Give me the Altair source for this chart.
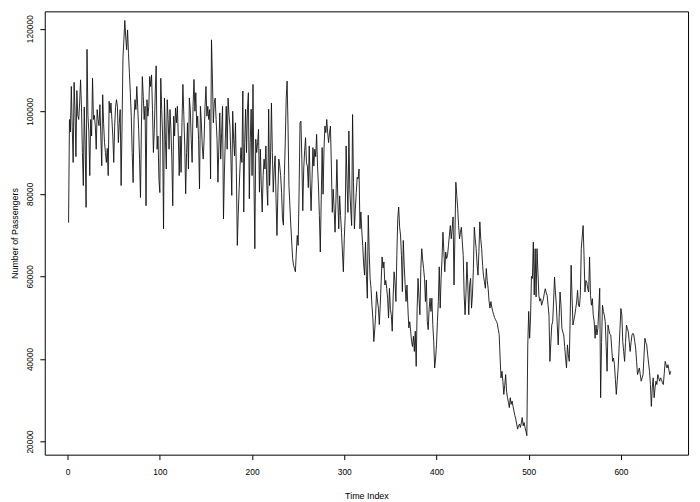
import altair as alt
import pandas as pd

# Passenger counts in thousands, in order of time index
seg1 = [73, 98, 95, 106, 96, 87.6, 107, 100, 89, 105, 99, 98, 102, 107.6, 101, 90, 82, 101, 92, 76.7,
        115, 99, 95, 84.4, 98, 94, 108, 98, 99, 96.4, 90.8, 100.4, 98, 96.5, 101.6, 94, 86.8, 104, 97, 92.4,
        90, 87.6, 91, 84.4, 102.4, 99.6, 102, 98, 94, 87.6, 96.4, 101, 102.8, 101.2, 92.4, 97]
seg2 = [100.4, 82, 96.4, 112.9, 117.3, 122, 118, 114.9, 119.7, 114, 109.2, 104.4, 98.8, 90, 82.7, 98, 102.8,
        100.4, 106, 101, 95.6, 88.4, 79.1, 96.4, 108.4, 103.6, 98, 101.2, 77.1, 102.8, 98.8, 101.2, 108.4, 106,
        108.8, 100.4, 90, 95.6, 104.4, 111, 90.8, 94, 83.5, 80.3, 108, 100.4, 94, 71.5, 103.2, 93.2, 86,
        102.8, 98, 90.8, 100.4, 95.6, 88.4, 77.1, 98.8, 94, 100.8, 97.2, 101.2, 94, 84.4]
seg3 = [94, 85.2, 97.2, 106.5, 99, 91.6, 80, 90, 97.2, 86, 103.2, 100.4, 93.2, 87.6, 101.2, 107.7, 100, 104.5,
        96, 98.8, 93.2, 81.2, 101.2, 97.2, 91.6, 88.4, 93.2, 101.2, 106, 98.8, 101.2, 98, 100.4, 83.6, 117.3,
        108, 97.2, 102, 103.2, 98, 93.2, 82.8, 91.6, 99.6, 88.4, 94.8, 101.2, 73.9, 85, 93.2, 101.2, 90.8,
        103.2, 99, 96.4, 89.2, 79.6, 100, 93.2, 89.2, 97.2, 85.2, 67.5, 75, 81.2, 86.8]
seg4 = [91.2, 87.6, 104.9, 75.6, 92.4, 100.5, 90, 100.5, 104.5, 78.8, 92.4, 100.5, 84.4, 106.5, 84.4, 66.7,
        93.2, 90, 92.4, 95.6, 80.4, 90.8, 82, 75.6, 84.4, 88.4, 86, 91.6, 82, 77.2, 100.5, 82, 88.4, 102, 90,
        80.4, 86, 89.2, 78.8, 69.9, 80.4, 88.4, 86.8, 84.4, 80.4, 74, 72.4, 84.4, 92.4, 102.9, 107.3, 96.4, 82,
        77.2, 72.4, 68.3, 64.3, 62.7, 61.9, 61.1, 65.9, 69.9, 67.5, 80.4, 97.2]
seg5 = [97.6, 88.3, 75.9, 86, 90.4, 93.6, 87.5, 86.7, 81.5, 91.6, 82.8, 75.9, 83.5, 91.2, 86.7, 90.8, 89,
        94.4, 86.7, 81.9, 74.7, 65.9, 78.7, 91.2, 79.9, 90.8, 96.4, 94.8, 98, 94.8, 92.4, 94.8, 96.4, 86.7,
        75.5, 81.1, 76.3, 70.7, 78.7, 88.3, 78.7, 71.5, 79.5, 74.7, 70.7, 65.9, 61.1, 69.1, 74.7, 91.6, 82.8,
        75.5, 95.2, 81.1, 76.3, 72.3, 99.2, 82.8, 71.5, 76.3, 80.3, 84]
seg6 = [83.6, 86, 71.5, 75.6, 71, 67.5, 63, 60.3, 68.3, 60, 54.7, 74.8, 66, 59.5, 57.1, 53, 49.9, 44.2, 47,
        50.7, 56.3, 54, 52.3, 48.3, 53, 58.7, 64.7, 62, 63.5, 57.9, 59, 57.1, 54.7, 49.9, 57.1, 52, 50.7, 46.7,
        55, 61.1, 58.7, 53.9, 65.1, 74, 76.8, 72, 70, 65.1, 56.3, 68.7, 62.7, 58, 53.9, 57.9, 52.3, 47.5, 49,
        46.7, 44.2, 43, 45.5, 41.8, 46.7, 38.2]
seg7 = [52, 59.5, 54.7, 50.7, 61.9, 66.7, 64, 61.9, 59.5, 53.9, 59.1, 49.1, 47.1, 52, 54.7, 51.5, 54.7, 48.3,
        44.2, 37.8, 40, 43.4, 49, 53.9, 62.3, 52.3, 59.5, 64.3, 70.7, 66, 61.1, 65.9, 64.3, 65.1, 67.5, 70,
        72.3, 69.1, 71.5, 74.4, 57.9, 70, 82.8, 79.6, 76.4, 72.3, 69.1, 70.7, 71.9, 68.3, 65.1, 55.5, 50.7,
        56, 63.5, 57.9, 50.7, 57.9, 59.5, 52.3, 55.5, 61.9, 71.9, 69.1]
seg8 = [66.7, 63, 60.3, 66, 73.2, 69, 66.7, 62.7, 60, 58.7, 57.1, 61.9, 59, 57.1, 54, 52.3, 53.9, 52.5, 51.5,
        50.7, 50, 49.5, 49.1, 48.5, 47.1, 45.9, 40.2, 35.4, 37, 34.6, 31.4, 33.5, 36.2, 32.2, 30.6, 29.5, 28.2,
        30.6, 29, 29.8, 28.5, 27.4, 26.3, 25.4, 24.2, 23, 23.8, 24.2, 23.4, 24.5, 25.8, 23.8, 24.6, 23.4,
        22.5, 21.4, 43.4, 51.5, 45, 49.9, 60, 59.5, 68.3, 55.5, 66.7]
seg9 = [55, 66.7, 61, 55.4, 54, 54.6, 53, 53.8, 54.6, 56, 57, 56, 55.4, 53, 50.6, 39.4, 44, 48.2, 49, 54,
        59.8, 56, 53, 48, 43.4, 50, 56.2, 53, 47.4, 46.5, 45.8, 43, 40.2, 37.8, 43.4, 41, 39.4, 50, 62.7, 55,
        48.2, 49.4, 50.6, 52.2, 53.8, 56.6, 53, 52.6, 55.4, 66.7, 69.5, 72.3, 65.1, 56.2, 59, 58.6, 57, 56.2,
        64.7, 55.4, 53, 54.6, 50.6, 49]
seg10 = [45, 48.2, 45.8, 47.4, 52, 57.1, 30.6, 44, 53, 51.5, 50.6, 49, 43, 37, 48.2, 47, 46, 45.8, 42.6, 39.4,
         40.2, 38.6, 35, 31.4, 34.6, 37.8, 42.6, 47.4, 52.2, 50.6, 44.2, 41.8, 39.4, 44, 48.2, 47.4, 46.6,
         44.2, 41.8, 44, 45.8, 46.2, 45.8, 44.2, 42.6, 39.4, 36.2, 37, 37.8, 36.2, 34.6, 35.4, 36.2, 40.6, 45,
         44, 43.4, 41, 39, 37, 33.8, 28.5, 33, 35.4, 30.6, 33, 34.6, 33.8, 36.2, 35.4, 34.6, 35.4, 35, 34.2,
         33.8, 36.5, 39.4, 38.6, 37.8, 38.6, 37.4, 36.2, 37]

thousands = seg1 + seg2 + seg3 + seg4 + seg5 + seg6 + seg7 + seg8 + seg9 + seg10
passengers = [round(v * 1000) for v in thousands]
time_index = list(range(1, len(passengers) + 1))

x_ticks = [0, 100, 200, 300, 400, 500, 600]
y_ticks = [20000, 40000, 60000, 80000, 100000, 120000]

df = pd.DataFrame({"t": time_index, "p": passengers})

font = "Liberation Sans"

chart = alt.Chart(df).mark_line(color="#111111", strokeWidth=0.9).encode(
    x=alt.X("t:Q",
            scale=alt.Scale(domain=[-24.8, 672.8], nice=False, zero=False),
            axis=alt.Axis(values=x_ticks, format="d", title="Time Index", grid=False, domain=False,
                          tickSize=5, tickColor="black", tickWidth=1, labelColor="black",
                          labelFont=font, labelFontSize=8.5, labelPadding=8,
                          titleFont=font, titleFontSize=9, titleFontWeight="normal",
                          titleColor="black", titlePadding=16)),
    y=alt.Y("p:Q",
            scale=alt.Scale(domain=[16800, 124200], nice=False, zero=False),
            axis=alt.Axis(values=y_ticks, format="d", title="Number of Passengers", grid=False,
                          domain=False, tickSize=5, tickColor="black", tickWidth=1,
                          labelColor="black", labelFont=font, labelFontSize=8.5, labelAngle=270,
                          labelAlign="center", labelBaseline="bottom", labelPadding=5,
                          titleFont=font, titleFontSize=9, titleFontWeight="normal",
                          titleColor="black", titlePadding=7)),
).properties(
    width=650.8,
    height=448.5,
    autosize="none",
    padding={"left": 37.2, "top": 0.5, "right": 4, "bottom": 45},
).configure_view(stroke="black", strokeWidth=1)

chart.save("out.html", embed_options={"renderer": "svg", "actions": False})
